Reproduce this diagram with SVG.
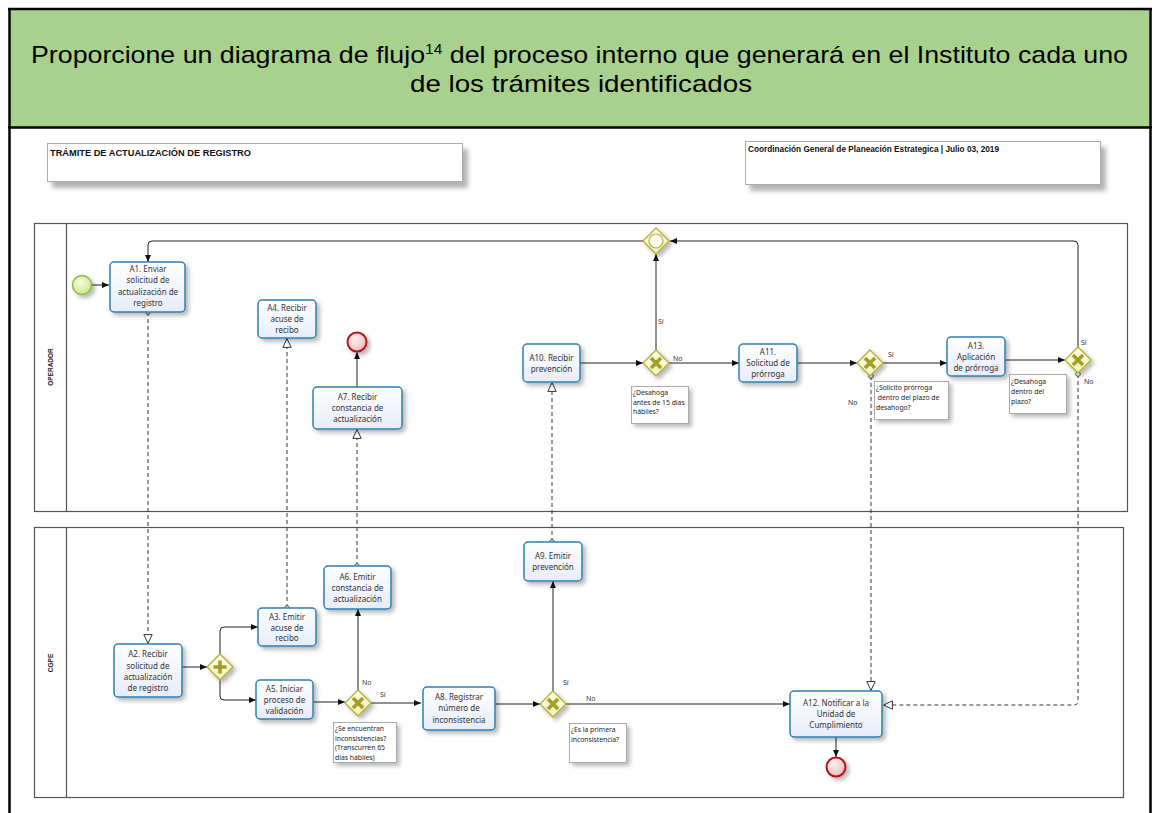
<svg xmlns="http://www.w3.org/2000/svg" width="1154" height="813" viewBox="0 0 1154 813">
<style>
.task rect{fill:url(#tg);stroke:#2f80b4;stroke-width:1.5}
.tt{font-family:"Noto Sans","Open Sans",sans-serif;font-size:8px;fill:#333;text-anchor:middle}
.ann rect{fill:#fff;stroke:#9a9a9a;stroke-width:0.8}
.at{font-family:"Noto Sans","Open Sans",sans-serif;font-size:6.8px;fill:#222}
.lbl{font-family:"Noto Sans","Open Sans",sans-serif;font-size:7px;fill:#333}
.seq{fill:none;stroke:#222;stroke-width:1}
.msg{fill:none;stroke:#333;stroke-width:1;stroke-dasharray:4 3}
.gw path.d{fill:url(#gg);stroke:#b3ae36;stroke-width:1.4}
.gw path.m{stroke:#a39e25;stroke-width:3.6;fill:none}
.lane{fill:none;stroke:#555;stroke-width:1.2}
.ln{font-family:"Liberation Sans",Arial,sans-serif;font-size:6.5px;font-weight:bold;fill:#222;text-anchor:middle}
.hb{fill:#fff;stroke:#aaa;stroke-width:1}
.ht{font-family:"Liberation Sans",Arial,sans-serif;font-size:9px;font-weight:bold;fill:#111}
</style>
<defs>
<linearGradient id="tg" x1="0" y1="0" x2="0" y2="1"><stop offset="0" stop-color="#ffffff"/><stop offset="1" stop-color="#e6ecf9"/></linearGradient>
<linearGradient id="gg" x1="0" y1="0" x2="0" y2="1"><stop offset="0" stop-color="#ffffe8"/><stop offset="1" stop-color="#f1f0b8"/></linearGradient>
<radialGradient id="sg" cx="0.4" cy="0.35" r="0.7"><stop offset="0" stop-color="#f6fde0"/><stop offset="1" stop-color="#c6e889"/></radialGradient>
<radialGradient id="eg" cx="0.4" cy="0.35" r="0.7"><stop offset="0" stop-color="#fdf0f0"/><stop offset="1" stop-color="#efb8b8"/></radialGradient>
<filter id="sh" x="-20%" y="-20%" width="150%" height="160%"><feDropShadow dx="3" dy="3" stdDeviation="2" flood-color="#000" flood-opacity="0.28"/></filter>
<filter id="sh2" x="-10%" y="-30%" width="130%" height="180%"><feDropShadow dx="5" dy="6" stdDeviation="2.5" flood-color="#000" flood-opacity="0.3"/></filter>
<marker id="arr" viewBox="0 0 8 8" refX="8" refY="4" markerWidth="7" markerHeight="7" orient="auto" markerUnits="userSpaceOnUse"><path d="M0,0.6 L8,4 L0,7.4 z" fill="#111"/></marker>
<marker id="harr" viewBox="0 0 10 10" refX="10" refY="5" markerWidth="10" markerHeight="10" orient="auto" markerUnits="userSpaceOnUse"><path d="M0.6,0.8 L9.4,5 L0.6,9.2 z" fill="#fff" stroke="#333" stroke-width="1"/></marker>
<marker id="circ" viewBox="0 0 6 6" refX="3" refY="3" markerWidth="6" markerHeight="6" markerUnits="userSpaceOnUse"><circle cx="3" cy="3" r="2.3" fill="#fff" stroke="#444" stroke-width="0.9"/></marker>
</defs>

<rect x="0" y="0" width="1154" height="813" fill="#fff"/>
<!-- header -->
<g id="header">
<rect x="9" y="9" width="1140" height="118" fill="#a9d18e"/>
<path d="M9.5,8 L9.5,813 M1150.5,8 L1150.5,813 M8,9 L1152,9 M8,127.5 L1152,127.5" stroke="#000" stroke-width="2.5" fill="none"/>
<text font-family="Liberation Sans,Arial,sans-serif" font-size="24" fill="#000" x="31" y="63" textLength="1097" lengthAdjust="spacingAndGlyphs">Proporcione un diagrama de flujo<tspan font-size="14" dy="-9">14</tspan><tspan dy="9"> del proceso interno que generará en el Instituto cada uno</tspan></text>
<text font-family="Liberation Sans,Arial,sans-serif" font-size="24" fill="#000" x="410" y="92" textLength="342" lengthAdjust="spacingAndGlyphs">de los trámites identificados</text>
</g>

<g id="titlebox1" filter="url(#sh2)"><rect class="hb" x="47.5" y="143.5" width="415" height="38"/></g>
<text class="ht" x="50" y="156" textLength="201" lengthAdjust="spacingAndGlyphs">TRÁMITE DE ACTUALIZACIÓN DE REGISTRO</text>
<g id="titlebox2" filter="url(#sh2)"><rect class="hb" x="745.5" y="141.5" width="355" height="43"/></g>
<text class="ht" x="748" y="152" textLength="251" lengthAdjust="spacingAndGlyphs">Coordinación General de Planeación Estrategica | Julio 03, 2019</text>

<!-- lanes -->
<g id="lane-operador">
<rect class="lane" x="34.5" y="223.5" width="1093" height="288"/>
<line class="lane" x1="66.5" y1="223.5" x2="66.5" y2="511.5"/>
<text class="ln" transform="translate(52.5,367) rotate(-90)">OPERADOR</text>
</g>
<g id="lane-cgpe">
<rect class="lane" x="34.5" y="527.5" width="1089" height="270"/>
<line class="lane" x1="66.5" y1="527.5" x2="66.5" y2="797.5"/>
<text class="ln" transform="translate(52.5,663) rotate(-90)">CGPE</text>
</g>

<!-- connectors -->
<g id="connectors">
<path class="seq" d="M92,285 L109,285" marker-end="url(#arr)"/>
<path class="msg" d="M148,312 L148,644" marker-start="url(#circ)" marker-end="url(#harr)"/>
<path class="msg" d="M287,608 L287,338" marker-start="url(#circ)" marker-end="url(#harr)"/>
<path class="msg" d="M357,566 L357,429" marker-start="url(#circ)" marker-end="url(#harr)"/>
<path class="msg" d="M552,542 L552,382" marker-start="url(#circ)" marker-end="url(#harr)"/>
<path class="seq" d="M357,387 L357,352" marker-end="url(#arr)"/>
<path class="seq" d="M182,667 L207,667" marker-end="url(#arr)"/>
<path class="seq" d="M220,654 L220,631 Q220,627 224,627 L258,627" marker-end="url(#arr)"/>
<path class="seq" d="M220,680 L220,696 Q220,700 224,700 L256,700" marker-end="url(#arr)"/>
<path class="seq" d="M313,702 L345,702" marker-end="url(#arr)"/>
<path class="seq" d="M358,690 L358,609" marker-end="url(#arr)"/>
<path class="seq" d="M371,703 L421,703" marker-end="url(#arr)"/>
<path class="seq" d="M495,704 L540,704" marker-end="url(#arr)"/>
<path class="seq" d="M553,691 L553,581" marker-end="url(#arr)"/>
<path class="seq" d="M566,704 L790,704" marker-end="url(#arr)"/>
<path class="seq" d="M836,737 L836,757" marker-end="url(#arr)"/>
<path class="seq" d="M580,363 L643,363" marker-end="url(#arr)"/>
<path class="seq" d="M656,350 L656,254" marker-end="url(#arr)"/>
<path class="seq" d="M669,363 L739,363" marker-end="url(#arr)"/>
<path class="seq" d="M797,363 L857,363" marker-end="url(#arr)"/>
<path class="seq" d="M883,363 L947,363" marker-end="url(#arr)"/>
<path class="msg" d="M871,376 L871,691" marker-start="url(#circ)" marker-end="url(#harr)"/>
<path class="seq" d="M1005,360 L1065,360" marker-end="url(#arr)"/>
<path class="seq" d="M1078,347 L1078,245 Q1078,241 1074,241 L670,241" stroke="#666" marker-end="url(#arr)"/>
<path class="msg" d="M1078,374 L1078,701 Q1078,705 1074,705 L883,705" marker-start="url(#circ)" marker-end="url(#harr)"/>
<path class="seq" d="M643,241 L152,241 Q148,241 148,245 L148,262" marker-end="url(#arr)"/>
<text class="lbl" x="658" y="324">Sí</text>
<text class="lbl" x="673" y="361">No</text>
<text class="lbl" x="888" y="357">Sí</text>
<text class="lbl" x="848" y="405">No</text>
<text class="lbl" x="1081" y="345">Sí</text>
<text class="lbl" x="1084" y="384">No</text>
<text class="lbl" x="362" y="685">No</text>
<text class="lbl" x="380" y="697">Sí</text>
<text class="lbl" x="563" y="685">Sí</text>
<text class="lbl" x="586" y="701">No</text>
</g>

<!-- events -->
<g id="start" filter="url(#sh)"><circle cx="82" cy="285" r="9.5" fill="url(#sg)" stroke="#8cbd42" stroke-width="1.5"/></g>
<g id="end1" filter="url(#sh)"><circle cx="357" cy="342" r="9.5" fill="url(#eg)" stroke="#b01818" stroke-width="2"/></g>
<g id="end2" filter="url(#sh)"><circle cx="836" cy="767" r="9.5" fill="url(#eg)" stroke="#b01818" stroke-width="2"/></g>

<!-- tasks -->
<g id="A1" class="task"><rect x="110" y="262" width="75" height="50" rx="4" filter="url(#sh)"/>
<text class="tt"><tspan x="148" y="272">A1. Enviar</tspan><tspan x="148" y="283">solicitud de</tspan><tspan x="148" y="295">actualización de</tspan><tspan x="148" y="306">registro</tspan></text></g>
<g id="A4" class="task"><rect x="258" y="300" width="58" height="38" rx="4" filter="url(#sh)"/>
<text class="tt"><tspan x="287" y="311">A4. Recibir</tspan><tspan x="287" y="322">acuse de</tspan><tspan x="287" y="333">recibo</tspan></text></g>
<g id="A7" class="task"><rect x="313" y="387" width="89" height="42" rx="4" filter="url(#sh)"/>
<text class="tt"><tspan x="357.5" y="400">A7. Recibir</tspan><tspan x="357.5" y="411">constancia de</tspan><tspan x="357.5" y="422">actualización</tspan></text></g>
<g id="A10" class="task"><rect x="523" y="344" width="57" height="38" rx="4" filter="url(#sh)"/>
<text class="tt"><tspan x="551.5" y="361">A10. Recibir</tspan><tspan x="551.5" y="372">prevención</tspan></text></g>
<g id="A11" class="task"><rect x="739" y="344" width="58" height="38" rx="4" filter="url(#sh)"/>
<text class="tt"><tspan x="768" y="355">A11.</tspan><tspan x="768" y="366">Solicitud de</tspan><tspan x="768" y="377">prórroga</tspan></text></g>
<g id="A13" class="task"><rect x="947" y="337" width="58" height="39" rx="4" filter="url(#sh)"/>
<text class="tt"><tspan x="976" y="349">A13.</tspan><tspan x="976" y="360">Aplicación</tspan><tspan x="976" y="371">de prórroga</tspan></text></g>
<g id="A2" class="task"><rect x="114" y="644" width="68" height="53" rx="4" filter="url(#sh)"/>
<text class="tt"><tspan x="148" y="657">A2. Recibir</tspan><tspan x="148" y="669">solicitud de</tspan><tspan x="148" y="680">actualización</tspan><tspan x="148" y="691">de registro</tspan></text></g>
<g id="A3" class="task"><rect x="258" y="608" width="58" height="38" rx="4" filter="url(#sh)"/>
<text class="tt"><tspan x="287" y="620">A3.  Emitir</tspan><tspan x="287" y="631">acuse de</tspan><tspan x="287" y="641">recibo</tspan></text></g>
<g id="A5" class="task"><rect x="256" y="680" width="57" height="39" rx="4" filter="url(#sh)"/>
<text class="tt"><tspan x="284.5" y="692">A5. Iniciar</tspan><tspan x="284.5" y="703">proceso de</tspan><tspan x="284.5" y="714">validación</tspan></text></g>
<g id="A6" class="task"><rect x="324" y="566" width="67" height="43" rx="4" filter="url(#sh)"/>
<text class="tt"><tspan x="357.5" y="580">A6. Emitir</tspan><tspan x="357.5" y="591">constancia de</tspan><tspan x="357.5" y="602">actualización</tspan></text></g>
<g id="A8" class="task"><rect x="423" y="687" width="72" height="43" rx="4" filter="url(#sh)"/>
<text class="tt"><tspan x="459" y="700">A8. Registrar</tspan><tspan x="459" y="711">número de</tspan><tspan x="459" y="723">inconsistencia</tspan></text></g>
<g id="A9" class="task"><rect x="524" y="542" width="58" height="39" rx="4" filter="url(#sh)"/>
<text class="tt"><tspan x="553" y="559">A9. Emitir</tspan><tspan x="553" y="570">prevención</tspan></text></g>
<g id="A12" class="task"><rect x="790" y="691" width="92" height="46" rx="4" filter="url(#sh)"/>
<text class="tt"><tspan x="836" y="706">A12. Notificar a la</tspan><tspan x="836" y="717">Unidad de</tspan><tspan x="836" y="728">Cumplimiento</tspan></text></g>

<!-- gateways -->
<g id="G-par" class="gw" transform="translate(220,667)"><path class="d" d="M0,-13 L13,0 L0,13 L-13,0 Z" filter="url(#sh)"/><path class="m" d="M0,-6.5 L0,6.5 M-6.5,0 L6.5,0"/></g>
<g id="G-inc" class="gw" transform="translate(358,703)"><path class="d" d="M0,-13 L13,0 L0,13 L-13,0 Z" filter="url(#sh)"/><path class="m" d="M-5,-5 L5,5 M-5,5 L5,-5"/></g>
<g id="G-prim" class="gw" transform="translate(553,704)"><path class="d" d="M0,-13 L13,0 L0,13 L-13,0 Z" filter="url(#sh)"/><path class="m" d="M-5,-5 L5,5 M-5,5 L5,-5"/></g>
<g id="G-15" class="gw" transform="translate(656,363)"><path class="d" d="M0,-13 L13,0 L0,13 L-13,0 Z" filter="url(#sh)"/><path class="m" d="M-5,-5 L5,5 M-5,5 L5,-5"/></g>
<g id="G-sol" class="gw" transform="translate(870,363)"><path class="d" d="M0,-13 L13,0 L0,13 L-13,0 Z" filter="url(#sh)"/><path class="m" d="M-5,-5 L5,5 M-5,5 L5,-5"/></g>
<g id="G-plazo" class="gw" transform="translate(1078,360)"><path class="d" d="M0,-13 L13,0 L0,13 L-13,0 Z" filter="url(#sh)"/><path class="m" d="M-5,-5 L5,5 M-5,5 L5,-5"/></g>
<g id="G-event" class="gw" transform="translate(656,241)"><path class="d" d="M0,-13 L13,0 L0,13 L-13,0 Z" filter="url(#sh)"/><circle r="7" fill="#fffff2" stroke="#b3ae36" stroke-width="1.2"/></g>

<!-- annotations -->
<g id="N1" class="ann"><rect x="631.5" y="386.5" width="57" height="37" filter="url(#sh)"/>
<text class="at"><tspan x="633" y="395">¿Desahoga</tspan><tspan x="633" y="404.5">antes de 15 días</tspan><tspan x="633" y="414">hábiles?</tspan></text></g>
<g id="N2" class="ann"><rect x="874.5" y="381.5" width="74" height="38" filter="url(#sh)"/>
<text class="at"><tspan x="876" y="390">¿Solicito prórroga</tspan><tspan x="876" y="400"> dentro del plazo de</tspan><tspan x="876" y="409.5">desahogo?</tspan></text></g>
<g id="N3" class="ann"><rect x="1009.5" y="374.5" width="57" height="39" filter="url(#sh)"/>
<text class="at"><tspan x="1011" y="384">¿Desahoga</tspan><tspan x="1011" y="394">dentro del</tspan><tspan x="1011" y="404">plazo?</tspan></text></g>
<g id="N4" class="ann"><rect x="333.5" y="722.5" width="63" height="40" filter="url(#sh)"/>
<text class="at"><tspan x="335" y="731">¿Se encuentran</tspan><tspan x="335" y="740.5">inconsistencias?</tspan><tspan x="335" y="750">(Transcurren 65</tspan><tspan x="335" y="759.5">días hábiles)</tspan></text></g>
<g id="N5" class="ann"><rect x="569.5" y="723.5" width="57" height="39" filter="url(#sh)"/>
<text class="at"><tspan x="571" y="732">¿Es la primera</tspan><tspan x="571" y="741.5">inconsistencia?</tspan></text></g>
</svg>
